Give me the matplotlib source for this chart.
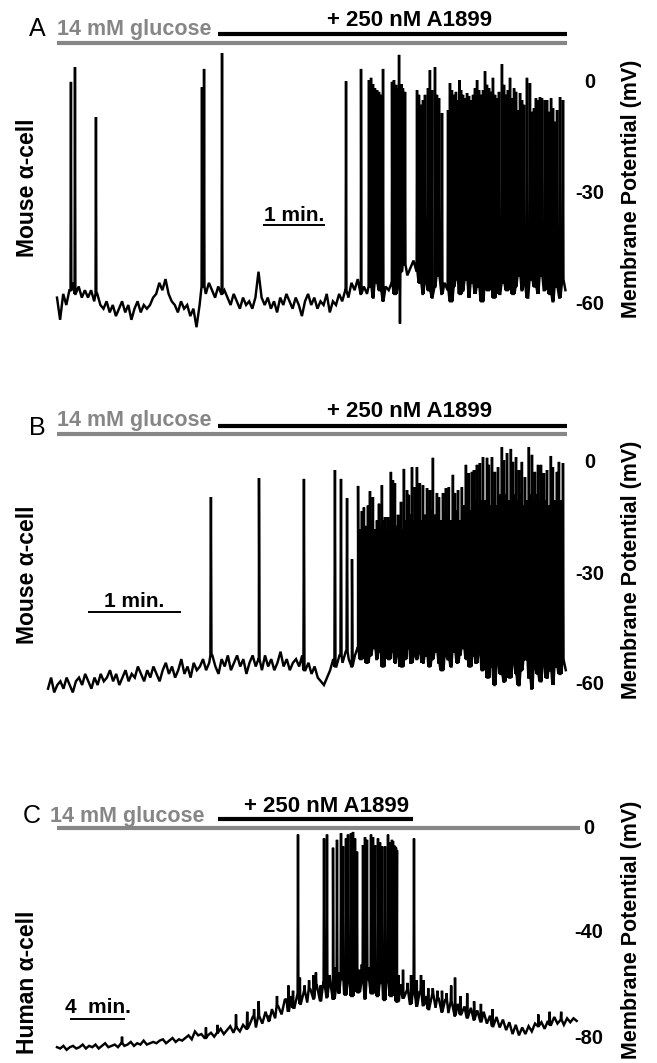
import matplotlib.pyplot as plt
import numpy as np

plt.rcParams['font.family'] = ['Liberation Sans', 'DejaVu Sans']

W, H = 657, 1063
GREY = '#868686'

# ---- panel A: mouse alpha-cell (time in s, potential in mV) ----
a_step = 3.0
a_base = [
    -58, -64, -57, -60, -56, -54, -57, -55, -58, -56,
    -58, -56, -59, -57, -60, -61, -59, -62, -60, -63,
    -61, -59, -62, -60, -64, -61, -59, -62, -60, -61,
    -60, -58, -57, -54, -56, -53, -57, -59, -60, -62,
    -59, -61, -60, -63, -61, -66, -60, -55, -57, -54,
    -56, -58, -55, -57, -56, -58, -60, -57, -59, -61,
    -58, -60, -59, -61, -58, -51, -58, -60, -58, -61,
    -59, -62, -58, -60, -57, -59, -61, -58, -60, -63,
    -59, -57, -60, -58, -61, -59, -60, -57, -62, -59,
    -60, -57, -59, -56, -58, -54, -56, -53, -57, -55,
    -57, -55, -58, -54, -56, -59, -55, -56, -54, -57,
    -55, -51, -49, -52, -50, -48, -51, -54, -57, -53,
    -56, -58, -55, -52, -57, -54, -56, -59, -55, -53,
    -57, -56, -53, -58, -54, -57, -55, -59, -54, -56,
    -53, -58, -55, -57, -54, -56, -53, -57, -55, -52,
    -56, -54, -58, -53, -55, -57, -52, -56, -54, -57,
    -59, -55, -58, -53, -56,
]
a_spikes = [
    (13.5, 0.3), (17.4, 4.3), (37.7, -9.2), (140.3, -1.1), (142.3, 3.8),
    (159.7, 8.1), (279.7, 0.5), (294.2, 3.8),
    (301.9, 0.8), (303.9, 1.4), (305.8, -0.3), (307.7, -1.4), (309.7, -1.9),
    (311.6, -2.4), (313.5, -3.2), (315.5, 3.8),
    (324.2, 0.3), (326.1, 0.8), (328.1, -0.5), (330.0, -1.4), (331.0, 7.6),
    (331.9, -65), (333.4, -0.3), (334.8, -1.4), (336.8, -2.4),
    (348.4, -1.9), (350.3, -3.2), (352.2, -5.9), (354.2, -4.6), (356.1, -3.2),
    (359.0, -1.4), (360.9, 3.5), (362.9, -1.9), (365.8, 4.3), (367.7, -3.2),
    (369.7, -4.1), (372.6, -8.1),
    (378.4, -7.3), (380.3, 0.0), (382.2, -1.9), (384.2, -3.2), (386.1, -2.4),
    (388.1, -4.6), (389.3, 0.8), (391.0, -1.9), (392.9, -3.2), (394.8, -4.1),
    (396.8, -2.7), (398.7, -3.5), (400.6, -4.6), (402.6, -3.2), (404.5, -1.4),
    (406.5, 0.8), (408.4, -1.9), (410.3, -3.2), (412.3, -1.9),
    (414.2, 3.2), (416.1, -0.5), (418.1, -1.4), (420.0, -2.4), (421.9, 1.4),
    (423.9, -3.2), (425.8, -4.1), (427.7, -2.4), (430.6, 5.1), (432.6, -0.5),
    (434.5, -3.2), (436.4, -1.9), (438.4, 1.4), (440.3, -4.1), (442.3, -1.4),
    (444.2, -2.4), (446.1, -7.3),
    (448.1, -2.7), (450.0, -4.6), (451.9, -5.9), (454.8, 1.4), (457.7, 0.0),
    (459.7, -7.8), (461.6, -6.8), (463.5, -4.1), (465.5, -4.6), (467.4, -3.8),
    (469.3, -4.1), (472.2, -4.6), (474.2, -4.6), (476.1, -7.8), (478.1, -4.1),
    (480.0, -6.8), (481.9, -10.5), (483.9, -7.3), (486.8, -3.8), (489.7, -4.6),
]

# ---- panel B: mouse alpha-cell ----
b_step = 2.0
b_base = [
    -61, -58, -62, -60, -59, -61, -58, -60, -62, -59,
    -58, -60, -57, -59, -61, -58, -60, -57, -59, -58,
    -56, -59, -57, -60, -58, -56, -59, -57, -58, -55,
    -57, -59, -56, -58, -55, -57, -59, -56, -54, -57,
    -55, -58, -56, -53, -57, -55, -58, -54, -56, -55,
    -53, -56, -54, -52, -55, -57, -53, -55, -52, -56,
    -54, -52, -55, -53, -57, -54, -52, -55, -53, -56,
    -52, -55, -53, -56, -54, -51, -55, -53, -56, -54,
    -53, -55, -52, -56, -54, -57, -55, -58, -59, -60,
    -58, -56, -53, -55, -52, -54, -51, -53, -55, -52,
    -50, -53, -51, -54, -52, -50, -53, -51, -55, -52,
    -53, -51, -54, -52, -55, -53, -50, -54, -52, -53,
    -51, -54, -52, -55, -53, -51, -54, -56, -52, -53,
    -55, -51, -54, -52, -50, -53, -55, -52, -54, -51,
    -56, -53, -58, -55, -60, -54, -57, -59, -55, -58,
    -54, -57, -60, -56, -53, -58, -61, -55, -57, -59,
    -54, -58, -56, -60, -55, -57, -53, -56,
]
b_spikes = [
    (105.1, -9.2), (136.1, -4.1), (165.1, -4.3), (185.1, -1.9), (189.0, -4.3),
    (192.9, -9.5), (196.1, -26), (200.0, -6.2), (201.2, -18), (202.5, -13),
    (203.8, -12), (205.1, -17), (206.4, -11.5), (207.7, -7.6), (208.3, -15.5),
    (209.6, -9.2), (210.9, -18), (212.2, -15.5), (213.5, -11), (214.8, -17),
    (215.4, -6), (216.7, -15.5), (217.4, -14.6), (218.7, -18), (219.3, -14.6),
    (220.6, -15.5), (221.2, -2.4), (222.5, -4.6), (223.8, -5.4), (225.1, -17),
    (225.8, -14), (227.0, -15.5), (227.7, -10.5), (229.0, -18), (229.6, -1.6),
    (230.9, -15.5), (231.6, -7.3), (232.8, -8.6), (234.1, -14), (234.8, -1.1),
    (236.1, -15.5), (236.7, -6.5), (238.0, -1.1), (239.3, -12.7), (239.9, -5.4),
    (241.2, -15.5), (241.9, -6), (243.2, -14), (244.5, -6.8), (245.7, -15.5),
    (246.4, -7.3), (247.7, -12.7), (248.3, 1.4), (249.6, -14), (250.9, -8.1),
    (252.2, -9.2), (253.5, -15.5), (254.8, -8.1), (256.1, -12.7), (256.7, -6.8),
    (258.0, -14), (258.6, -6.5), (259.9, -15.5), (261.2, -3.2), (262.5, -8.1),
    (263.8, -12.7), (264.5, -7.3), (265.7, -15.5), (267.0, -6.5), (268.3, -11.4),
    (269.6, -0.5), (270.9, -10), (271.5, -2.7), (272.8, -12.7), (273.5, -2.4),
    (274.8, -1.9), (276.1, -10), (276.7, -0.5), (278.0, -11.4), (278.6, 0.0),
    (279.9, -10), (280.6, 1.6), (281.9, -10), (283.2, 1.4), (284.4, -0.5),
    (285.1, -11.4), (286.4, 1.6), (287.7, -10), (288.3, -2.4), (289.6, -11.4),
    (290.3, -1.1), (291.5, -8.6), (292.8, 4.3), (294.1, 0.8), (294.8, -8.6),
    (296.1, 2.7), (297.3, -10), (298.6, 3.8), (299.9, 0.3), (300.6, -8.6),
    (301.9, 1.6), (303.2, -10), (303.8, -1.9), (305.1, -8.6), (305.7, 0.3),
    (307.0, -11.4), (307.7, -3.8), (309.0, -10), (310.2, 4.3), (310.9, -8.6),
    (312.2, 2.2), (313.5, -10), (314.1, -2.4), (315.4, -8.6), (316.1, -0.5),
    (317.3, -10), (318.0, -0.5), (319.3, -11.4), (319.9, -2.7), (321.2, -10),
    (321.9, -1.9), (323.1, -11.4), (324.4, 1.9), (325.7, -1.1), (327.0, -10),
    (328.3, -2.4), (329.6, 0.3), (330.9, -10), (332.2, 0.0),
]

# ---- panel C: human alpha-cell ----
c_step = 14.0
c_base = [
    -83.5, -84, -83, -84.5, -83.5, -83, -84, -83.5, -82.5, -84,
    -83, -83.5, -82.5, -84, -83, -82, -83.5, -83, -82.5, -83.5,
    -82, -83, -82.5, -81.5, -83, -82, -82.5, -81, -82.5, -82,
    -81.5, -82, -81, -80.5, -82, -81, -80, -81.5, -80.5, -81,
    -80, -79, -80.5, -77.5, -79, -78.5, -80, -79, -78, -79.5,
    -78, -76.5, -78.5, -77, -75.5, -78, -76, -77.5, -75, -76.5,
    -75, -72, -76, -71.5, -74.5, -70, -73.5, -69, -72.5, -68,
    -71, -65.5, -70, -64, -68.5, -63, -67, -62, -66.5, -61.5,
    -65, -60, -66, -59, -64.5, -58, -65, -60.5, -63, -57.5,
    -63.5, -58, -64, -57, -62.5, -58.5, -65, -57.5, -63, -56.5,
    -64, -59, -65.5, -58.5, -64, -61, -66, -59.5, -65, -62,
    -67, -61.5, -68, -62.5, -67.5, -64, -69, -63, -68.5, -65,
    -70, -65.5, -70.5, -66, -71.5, -67, -71, -68, -72.5, -68.5,
    -73, -69.5, -74, -70, -74.5, -71.5, -75.5, -72, -76, -73,
    -77, -74, -78.5, -75, -79, -76, -78.5, -75.5, -77.5, -74.5,
    -75.5, -74, -76.5, -73.5, -75, -72, -74.5, -73, -75, -72.5,
    -74, -72.5, -73.5,
]
c_spikes = [
    (283.7, -79.5), (650.0, -76), (700.0, -75), (781.2, -71), (830.0, -70),
    (860.0, -69), (880.0, -66), (925.2, -71.5), (960.0, -64), (999.4, -65),
    (1010.0, -60), (1030.0, -62), (1051.7, -2.5), (1060.0, -57), (1080.0, -60),
    (1100.0, -58), (1120.0, -56), (1130.0, -55), (1150.0, -60), (1165.2, -4),
    (1178.3, -2.5), (1190.0, -56), (1204.5, -7.5), (1210.0, -53), (1221.9, -4.5),
    (1230.0, -55), (1239.4, -2), (1248.1, -7), (1255.0, -52), (1261.2, -4),
    (1269.9, -2.5), (1275.0, -54), (1283.0, -2), (1291.7, -1.5), (1300.5, -4),
    (1309.2, -9), (1315.0, -55), (1320.0, -54), (1330.0, -52), (1335.4, -6.5),
    (1344.1, -3.5), (1352.8, -4.5), (1360.0, -53), (1370.3, -2.5), (1379.0, -3.5),
    (1387.8, -6.5), (1395.0, -51), (1400.8, -4), (1409.6, -5.5), (1418.3, -7),
    (1425.0, -55), (1431.4, -7), (1438.0, -54), (1444.5, -2.5), (1453.2, -5.5),
    (1461.9, -4.5), (1466.3, -5), (1470.7, -6.5), (1475.0, -7), (1479.4, -7.5),
    (1483.8, -8.5), (1490.0, -56), (1510.0, -54), (1530.0, -59), (1545.0, -56),
    (1557.9, -4), (1570.0, -58), (1588.5, -56), (1600.0, -58), (1620.0, -61),
    (1640.0, -61), (1660.0, -62), (1680.0, -62), (1700.0, -63), (1720.0, -60),
    (1736.9, -57), (1760.0, -64), (1790.0, -63), (1820.0, -66), (1850.0, -67),
    (1900.0, -69), (2100.0, -71), (2150.0, -70), (2200.0, -70),
]


def build_trace(base, step, spikes, half_width):
    t = np.arange(len(base)) * step
    v = np.asarray(base, dtype=float)
    ts, vs = [t], [v]
    for st, peak in spikes:
        b = v[min(int(round(st / step)), len(v) - 1)]
        ts.append([st - half_width, st, st + half_width])
        vs.append([b, peak, b])
    tt = np.concatenate(ts)
    vv = np.concatenate(vs)
    order = np.argsort(tt, kind='stable')
    return tt[order], vv[order]


def px_axes(fig, left, top, right, bottom):
    ax = fig.add_axes([left / W, 1 - bottom / H, (right - left) / W, (bottom - top) / H])
    ax.axis('off')
    return ax


def fig_text(fig, x, y, s, **kw):
    fig.text(x / W, 1 - y / H, s, **kw)


fig = plt.figure(figsize=(W / 100, H / 100), dpi=100)

panels = [
    dict(letter='A', letter_x=37, letter_y=29, box=(57, 16.4, 565, 327.2), xlim=(0, 491.6),
         ylim=(-66, 18), trace=build_trace(a_base, a_step, a_spikes, 0.4),
         ticks=[0, -30, -60], tick_x=1.049,
         glu=(0, 493.5, 10.8), drug=(155.8, 493.5, 13.2),
         glu_txt=(0, 13.0), drug_txt=(341.6, 15.4),
         scale=(199.4, 259.4, -38.4), scale_txt=(229.4, -37.4, '1 min.'),
         cell='Mouse α-cell', cell_y=188, ylab_y=189),
    dict(letter='B', letter_x=37, letter_y=428, box=(48, 396.4, 565, 707.2), xlim=(0, 333.5),
         ylim=(-66, 18), trace=build_trace(b_base, b_step, b_spikes, 0.35),
         ticks=[0, -30, -60], tick_x=1.048,
         glu=(5.8, 334.8, 7.8), drug=(109.7, 334.8, 10.0),
         glu_txt=(5.8, 9.9), drug_txt=(233.5, 12.4),
         scale=(25.8, 85.8, -40.3), scale_txt=(55.8, -38.8, '1 min.'),
         cell='Mouse α-cell', cell_y=575, ylab_y=570),
    dict(letter='C', letter_x=32, letter_y=816, box=(57, 791.25, 578, 1053.75), xlim=(0, 2273.6),
         ylim=(-86, 14), trace=build_trace(c_base, c_step, c_spikes, 1.8),
         ticks=[0, -40, -80], tick_x=1.021,
         glu=(0, 2282, 0.0), drug=(702.6, 1553.6, 3.4),
         glu_txt=(-30.5, 2.4), drug_txt=(1178, 6.0),
         scale=(56.7, 296.7, -72.8), scale_txt=(176.7, -70.3, '4  min.'),
         cell='Human α-cell', cell_y=982, ylab_y=930),
]

for p in panels:
    ax = px_axes(fig, *p['box'])
    ax.set_xlim(*p['xlim'])
    ax.set_ylim(*p['ylim'])

    t, v = p['trace']
    ax.plot(t, v, color='black', lw=1.75, solid_joinstyle='miter', clip_on=False)

    g0, g1, gy = p['glu']
    ax.plot([g0, g1], [gy, gy], color=GREY, lw=3.0, solid_capstyle='butt', clip_on=False)
    d0, d1, dy = p['drug']
    ax.plot([d0, d1], [dy, dy], color='black', lw=3.0, solid_capstyle='butt', clip_on=False)
    ax.text(*p['glu_txt'], '14 mM glucose', color=GREY, fontsize=15.5, fontweight='bold',
            ha='left', va='baseline', clip_on=False)
    ax.text(*p['drug_txt'], '+ 250 nM A1899', color='black', fontsize=16, fontweight='bold',
            ha='center', va='baseline', clip_on=False)

    s0, s1, sy = p['scale']
    ax.plot([s0, s1], [sy, sy], color='black', lw=1.4, solid_capstyle='butt')
    sx, sty, stxt = p['scale_txt']
    ax.text(sx, sty, stxt, fontsize=15, fontweight='bold', ha='center', va='baseline')

    for tk in p['ticks']:
        ax.text(p['tick_x'], tk, str(tk), transform=ax.get_yaxis_transform(),
                fontsize=14.5, fontweight='bold', ha='center', va='center', clip_on=False)

    fig_text(fig, p['letter_x'], p['letter_y'], p['letter'], fontsize=18, ha='center', va='center')
    fig_text(fig, 28, p['cell_y'], p['cell'], fontsize=16.5, fontweight='bold',
             rotation=90, ha='center', va='center')
    fig_text(fig, 632, p['ylab_y'], 'Membrane Potential (mV)', fontsize=15.5, fontweight='bold',
             rotation=90, ha='center', va='center')

fig.savefig('out.png', dpi=100)
